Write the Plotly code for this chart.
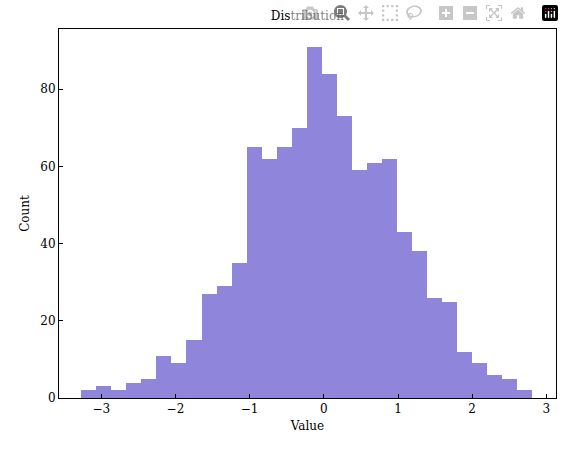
import numpy as np
import plotly.graph_objects as go

# histogram counts
counts = [2, 3, 2, 4, 5, 11, 9, 15, 27, 29, 35, 65, 62, 65, 70,
          91, 84, 73, 59, 61, 62, 43, 38, 26, 25, 12, 9, 6, 5, 2]
bin_start = -3.27
bin_end = 2.81
bin_width = (bin_end - bin_start) / len(counts)
centers = bin_start + bin_width * (np.arange(len(counts)) + 0.5)

fig = go.Figure(go.Bar(
    x=centers, y=counts, width=bin_width,
    marker=dict(color="#8f86db", line=dict(width=0)),
))

axis_common = dict(
    showline=True, linecolor="black", linewidth=1, mirror=True,
    ticks="inside", ticklen=4, tickcolor="black",
    showgrid=False, zeroline=False,
    tickfont=dict(size=12, color="black"),
)
fig.update_layout(
    width=564, height=453,
    margin=dict(l=59, r=8, t=29, b=55),
    plot_bgcolor="white", paper_bgcolor="white",
    font=dict(family="DejaVu Serif", size=12, color="black"),
    title=dict(text="Distribution", x=0.545, xanchor="center", y=0.975, font=dict(size=12)),
    xaxis=dict(range=[-3.57, 3.13], tickvals=[-3, -2, -1, 0, 1, 2, 3],
               ticktext=["\u22123", "\u22122", "\u22121", "0", "1", "2", "3"],
               title=dict(text="Value", standoff=6, font=dict(size=12)), **axis_common),
    yaxis=dict(range=[0, 95.6], tickvals=[0, 20, 40, 60, 80],
               title=dict(text="Count", standoff=8, font=dict(size=12)), **axis_common),
    bargap=0, showlegend=False,
)
fig.write_html("out.html", post_script="document.body.style.margin='0';document.body.style.overflow='hidden';")
